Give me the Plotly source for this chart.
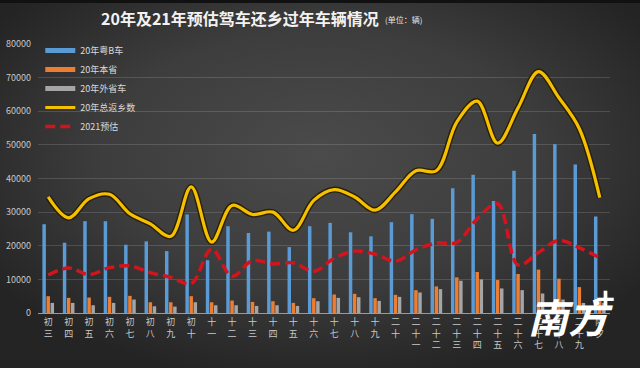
import base64
import plotly.graph_objects as go

# ---------------- data ----------------
days = ["初三", "初四", "初五", "初六", "初七", "初八", "初九", "初十", "十一", "十二",
        "十三", "十四", "十五", "十六", "十七", "十八", "十九", "二十", "二十一", "二十二",
        "二十三", "二十四", "二十五", "二十六", "二十七", "二十八", "二十九", "除夕"]
tick_text = ["<br>".join(list(d)) for d in days]

yue_b = [26400, 20900, 27300, 27300, 20300, 21300, 18400, 29300, 15700, 25800,
         23800, 24200, 19600, 25800, 26800, 24000, 22800, 27000, 29400, 28000,
         37100, 41100, 33300, 42300, 53200, 50200, 44200, 28700]
ben_sheng = [5000, 4500, 4600, 4800, 5100, 3200, 3200, 5000, 3200, 3700,
             3300, 3500, 3000, 4400, 5500, 5700, 4400, 5400, 6800, 7900,
             10600, 12200, 9800, 11600, 12900, 10200, 7700, 4300]
wai_sheng = [3000, 3000, 2300, 3000, 4000, 2000, 1900, 3200, 2300, 2300,
             2100, 2300, 2100, 3500, 4500, 4700, 3600, 4800, 6100, 7100,
             9600, 10000, 7300, 6800, 5800, 4000, 3000, 3000]
total_2020 = [34500, 28300, 34000, 35300, 29500, 26500, 22800, 37500, 21100, 32000,
              29300, 30000, 24600, 33500, 36700, 34500, 30600, 36000, 42300, 42300,
              56800, 63000, 50500, 61000, 71800, 64000, 54800, 34300]
est_2021 = [11300, 13400, 11400, 13500, 14000, 12000, 10600, 8800, 19000, 10900,
            15600, 14600, 14900, 12400, 16300, 18400, 17500, 15400, 18800, 20800,
            21000, 28000, 32500, 14300, 18000, 21600, 19400, 16400]
y_ticks = [0, 10000, 20000, 30000, 40000, 50000, 60000, 70000, 80000]

# ---------------- layout geometry ----------------
W, H = 640, 368
ML, MR, MT, MB = 38, 30, 44, 55
PW, PH = W - ML - MR, H - MT - MB
FONT = "Noto Sans CJK SC, Noto Sans, sans-serif"

svg = f'''<svg xmlns="http://www.w3.org/2000/svg" width="{W}" height="{H}" viewBox="0 0 {W} {H}" preserveAspectRatio="none">
<defs><radialGradient id="g" cx="50%" cy="42%" r="62%">
<stop offset="0%" stop-color="#4b4b4b"/><stop offset="55%" stop-color="#3d3d3d"/><stop offset="100%" stop-color="#242424"/>
</radialGradient></defs>
<rect width="{W}" height="{H}" fill="url(#g)"/><rect width="{W}" height="3" fill="#111"/></svg>'''
bg_uri = "data:image/svg+xml;base64," + base64.b64encode(svg.encode()).decode()

BLUE, ORANGE, GREY = "#5b9bd5", "#ed7d31", "#a5a5a5"

fig = go.Figure()
fig.add_trace(go.Bar(name="20年粤B车", x=days, y=yue_b, showlegend=False,
                     marker=dict(color=BLUE, line=dict(width=0))))
fig.add_trace(go.Bar(name="20年本省", x=days, y=ben_sheng, showlegend=False,
                     marker=dict(color=ORANGE, line=dict(width=0))))
fig.add_trace(go.Bar(name="20年外省车", x=days, y=wai_sheng, showlegend=False,
                     marker=dict(color=GREY, line=dict(width=0))))
# legend entries drawn as wide bars, as in the reference
for nm, col in [("20年粤B车", BLUE), ("20年本省", ORANGE), ("20年外省车", GREY)]:
    fig.add_trace(go.Scatter(name=nm, x=[None], y=[None], mode="lines",
                             line=dict(color=col, width=5)))
# dark outline under the yellow line
fig.add_trace(go.Scatter(x=days, y=total_2020, mode="lines", showlegend=False, hoverinfo="skip",
                         line=dict(color="rgba(40,28,0,0.9)", width=6, shape="spline", smoothing=1.0)))
fig.add_trace(go.Scatter(name="20年总返乡数", x=days, y=total_2020, mode="lines",
                         line=dict(color="#f5c000", width=3.2, shape="spline", smoothing=1.0)))
fig.add_trace(go.Scatter(name="2021预估", x=days, y=est_2021, mode="lines",
                         line=dict(color="#d4141c", width=3.5, dash="10px,5px",
                                   shape="spline", smoothing=1.0)))

fig.update_layout(
    width=W, height=H,
    margin=dict(l=ML, r=MR, t=MT, b=MB),
    paper_bgcolor="#333333", plot_bgcolor="rgba(0,0,0,0)",
    font=dict(family=FONT, color="#c8c8c8", size=9),
    barmode="group", bargap=0.4, bargroupgap=0.15,
    showlegend=True,
    legend=dict(x=0.004, y=1 + 8 / PH, xanchor="left", yanchor="top",
                bgcolor="rgba(0,0,0,0)", font=dict(size=9, color="#d9d9d9", family=FONT),
                tracegroupgap=0, itemwidth=30),
    images=[dict(source=bg_uri, xref="paper", yref="paper",
                 x=-ML / PW, y=1 + MT / PH, sizex=W / PW, sizey=H / PH,
                 xanchor="left", yanchor="top", sizing="stretch", layer="below")],
    xaxis=dict(type="category", categoryorder="array", categoryarray=days,
               tickmode="array", tickvals=days, ticktext=tick_text,
               showgrid=False, showline=True, linecolor="#9a9a9a", linewidth=1,
               ticks="", tickfont=dict(size=9, color="#c8c8c8"), tickangle=0,
               automargin=False),
    yaxis=dict(range=[0, 80000], tickmode="array", tickvals=y_ticks,
               ticktext=[str(v) for v in y_ticks],
               showgrid=True, gridcolor="rgba(255,255,255,0.14)", gridwidth=1,
               zeroline=False, showline=False, ticks="",
               tickfont=dict(size=9, color="#c8c8c8"), ticklabelstandoff=6,
               automargin=False),
    annotations=[
        dict(text="<b>20年及21年预估驾车还乡过年车辆情况</b>", xref="paper", yref="paper",
             x=(381 - ML) / PW, y=1 + (MT - 18) / PH, xanchor="right", yanchor="middle",
             showarrow=False, font=dict(size=16, color="#f2f2f2", family=FONT)),
        dict(text="(单位：辆)", xref="paper", yref="paper",
             x=(383 - ML) / PW, y=1 + (MT - 20) / PH, xanchor="left", yanchor="middle",
             showarrow=False, font=dict(size=8, color="#e6e6e6", family=FONT)),
        dict(text="<b>南方</b>", xref="paper", yref="paper",
             x=(570 - ML) / PW, y=-(316 - MT - PH) / PH, xanchor="center", yanchor="middle",
             showarrow=False, font=dict(size=40, color="#ffffff", family=FONT, style="italic")),
        dict(text="<b>+</b>", xref="paper", yref="paper",
             x=(605 - ML) / PW, y=-(297 - MT - PH) / PH, xanchor="center", yanchor="middle",
             showarrow=False, font=dict(size=32, color="#ffffff", family=FONT)),
    ],
)

fig.write_html("out.html", config={"displayModeBar": False},
               post_script="document.body.style.margin='0';document.body.style.overflow='hidden';")
